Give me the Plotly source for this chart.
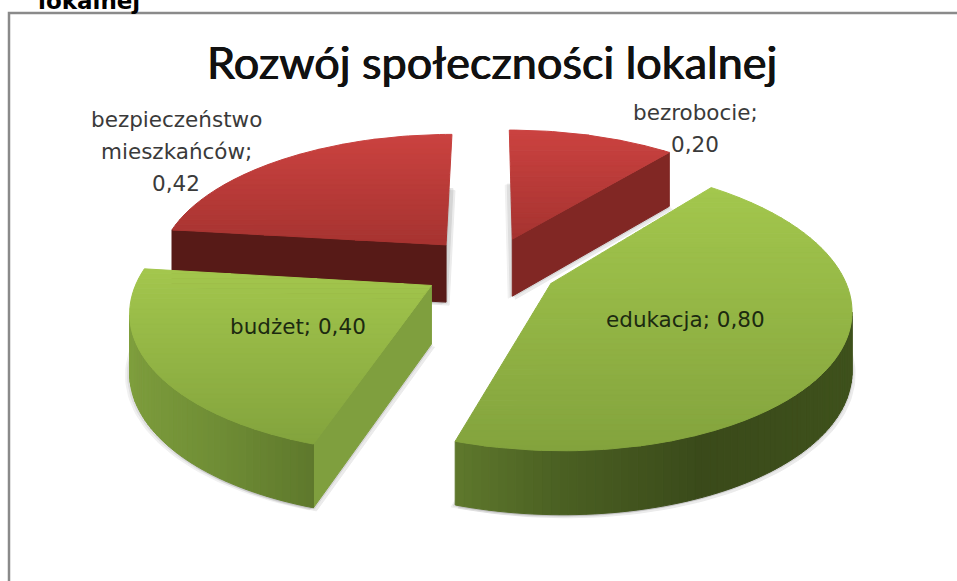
import math
import plotly.graph_objects as go

# ---- data ----
CATEGORIES = ["bezrobocie", "edukacja", "budżet", "bezpieczeństwo mieszkańców"]
VALUES = [0.20, 0.80, 0.40, 0.42]
FAMILIES = ["red", "green", "green", "red"]
TITLE = "Rozwój społeczności lokalnej"
CLIPPED_HEADING = "lokalnej"

# ---- drawing order and projection of the exploded 3-D pie ----
DRAW_ORDER = [0, 3, 2, 1]
CX, CY, AX, AY, PERSP, EXPLODE, DEPTH = 490, 268, 290, 135, 0.16, 0.235, 58
W, H = 957, 581

PALETTE = {
    "red": {"top": ("#cb4240", "#a63330"),
            "cut": {0: "#812724", 3: "#571a17"},
            "rim": [(-1, "#5a1b18"), (1, "#5a1b18")]},
    "green": {"top": ("#a3c74d", "#83a33d"),
              "cut": {2: "#7f9f3e", 1: "#7f9f3e"},
              "rim": [(-1, "#80a03e"), (-0.6, "#6f8d35"), (-0.3, "#5e782c"),
                      (0, "#4a5f22"), (0.4, "#3a4a1a"), (1, "#3f521c")]},
}


def rgb(h):
    return tuple(int(h[i:i + 2], 16) for i in (1, 3, 5))


def mix(a, b, t):
    a, b = rgb(a), rgb(b)
    return "rgb(%d,%d,%d)" % tuple(round(a[i] + (b[i] - a[i]) * t) for i in range(3))


def stops(lst, v):
    for (p, a), (q, b) in zip(lst, lst[1:]):
        if v <= q:
            return mix(a, b, max(0, (v - p) / (q - p)))
    return lst[-1][1]


def project(x, y, z=0.0):
    s = 1 / (1 + PERSP * y)
    return CX + AX * x * s, CY - AY * y * s + z * s ** 0.5


def clip_band(poly, y0, y1):
    def clip(pts, keep, cross):
        out = []
        for i, p in enumerate(pts):
            q = pts[(i + 1) % len(pts)]
            if keep(p):
                out.append(p)
            if keep(p) != keep(q):
                t = (cross - p[1]) / (q[1] - p[1])
                out.append((p[0] + (q[0] - p[0]) * t, cross))
        return out
    r = clip(poly, lambda p: p[1] >= y0, y0)
    return clip(r, lambda p: p[1] <= y1, y1) if r else r


def area(pts):
    return sum(pts[i][0] * pts[(i + 1) % len(pts)][1] - pts[(i + 1) % len(pts)][0] * pts[i][1]
               for i in range(len(pts))) / 2


fig = go.Figure()


def poly(pts, color, width=1.0, opacity=1.0):
    xs = [p[0] for p in pts] + [pts[0][0]]
    ys = [p[1] for p in pts] + [pts[0][1]]
    fig.add_trace(go.Scatter(x=xs, y=ys, mode="lines", fill="toself", fillcolor=color, opacity=opacity,
                             line=dict(color=color, width=width), hoverinfo="skip", showlegend=False))


total = sum(VALUES)
spans, a = [], 0.0
for v in VALUES:
    spans.append((a, a + v / total * 2 * math.pi))
    a = spans[-1][1]


def wedge(i):
    a0, a1 = spans[i]
    mid = (a0 + a1) / 2
    ox, oy = EXPLODE * math.sin(mid), EXPLODE * math.cos(mid)
    n = max(8, int((a1 - a0) * 40))
    thetas = [a0 + (a1 - a0) * k / n for k in range(n + 1)]
    rim = [(ox + math.sin(t), oy + math.cos(t)) for t in thetas]
    return (ox, oy), rim, thetas


# soft shadow under the silhouettes
for i in DRAW_ORDER:
    apex, rim, _ = wedge(i)
    outline = [project(*apex, DEPTH)] + [project(*p, DEPTH) for p in rim]
    for dx, dy, op in [(-4, 2, .10), (3, 3, .14), (-2, 1, .14), (1, 1, .18)]:
        poly([(x + dx, y + dy) for x, y in outline], "#777777", opacity=op)

for i in DRAW_ORDER:
    pal = PALETTE[FAMILIES[i]]
    apex, rim, thetas = wedge(i)
    # the two radial cut faces (edge-on slivers are left out)
    for p, q in ((apex, rim[0]), (rim[-1], apex)):
        quad = [project(*p), project(*q), project(*q, DEPTH), project(*p, DEPTH)]
        if area(quad) < 0 and abs(quad[0][0] - quad[1][0]) > 20:
            poly(quad, pal["cut"][i])
    # outer rim, strip by strip
    for k in range(len(rim) - 1):
        quad = [project(*rim[k]), project(*rim[k + 1]), project(*rim[k + 1], DEPTH), project(*rim[k], DEPTH)]
        if area(quad) < 0:
            poly(quad, stops(pal["rim"], math.sin((thetas[k] + thetas[k + 1]) / 2)))
    # top face with a vertical gradient
    top = [project(*apex)] + [project(*p) for p in rim]
    ymin, ymax = min(p[1] for p in top), max(p[1] for p in top)
    bands = max(6, int((ymax - ymin) / 5))
    for b in range(bands):
        y0 = ymin + (ymax - ymin) * b / bands
        y1 = ymin + (ymax - ymin) * (b + 1) / bands
        piece = clip_band(top, y0, y1)
        if len(piece) > 2:
            poly(piece, mix(*pal["top"], (b + .5) / bands))

# data labels
def label_lines(i):
    txt = f"{CATEGORIES[i]}; {VALUES[i]:.2f}".replace(".", ",")
    return txt.split(" ") if i in (0, 3) else [txt]


LABEL_AT = {0: (695, 112), 1: (685, 319), 2: (298, 326), 3: (176, 119)}
LABEL_COLOR = {0: "#3a3a3a", 1: "#1c2a10", 2: "#1c2a10", 3: "#3a3a3a"}
annots = []
for i in range(len(CATEGORIES)):
    x, y = LABEL_AT[i]
    for n, line in enumerate(label_lines(i)):
        annots.append(dict(x=x, y=y + n * 32, text=line, showarrow=False, xref="x", yref="y",
                           font=dict(family="DejaVu Sans", size=21.5, color=LABEL_COLOR[i]),
                           xanchor="center", yanchor="middle"))
annots.append(dict(x=492, y=62, text=TITLE, showarrow=False, xref="x", yref="y",
                   font=dict(family="Lato", size=45, color="#111111",
                             shadow="0.6px 0 0 #111111, -0.4px 0 0 #111111"),
                   xanchor="center", yanchor="middle"))
annots.append(dict(x=36 / W, y=1, text=f"<b>{CLIPPED_HEADING}</b>", showarrow=False, xref="paper", yref="paper",
                   yshift=-1, font=dict(family="DejaVu Sans", size=23, color="#000000"),
                   xanchor="left", yanchor="middle"))

fig.update_layout(
    width=W, height=H, autosize=False, margin=dict(l=0, r=0, t=0, b=0),
    paper_bgcolor="white", plot_bgcolor="white", showlegend=False, annotations=annots,
    xaxis=dict(range=[0, W], visible=False, fixedrange=True),
    yaxis=dict(range=[H, 0], visible=False, fixedrange=True),
    shapes=[dict(type="rect", xref="x", yref="y", x0=9, y0=13, x1=W + 10, y1=H + 10,
                 line=dict(color="#8a8a8a", width=2.5), fillcolor="rgba(0,0,0,0)", layer="below")],
)
fig.write_html("out.html", config={"displayModeBar": False},
               post_script="document.body.style.margin='0';")
